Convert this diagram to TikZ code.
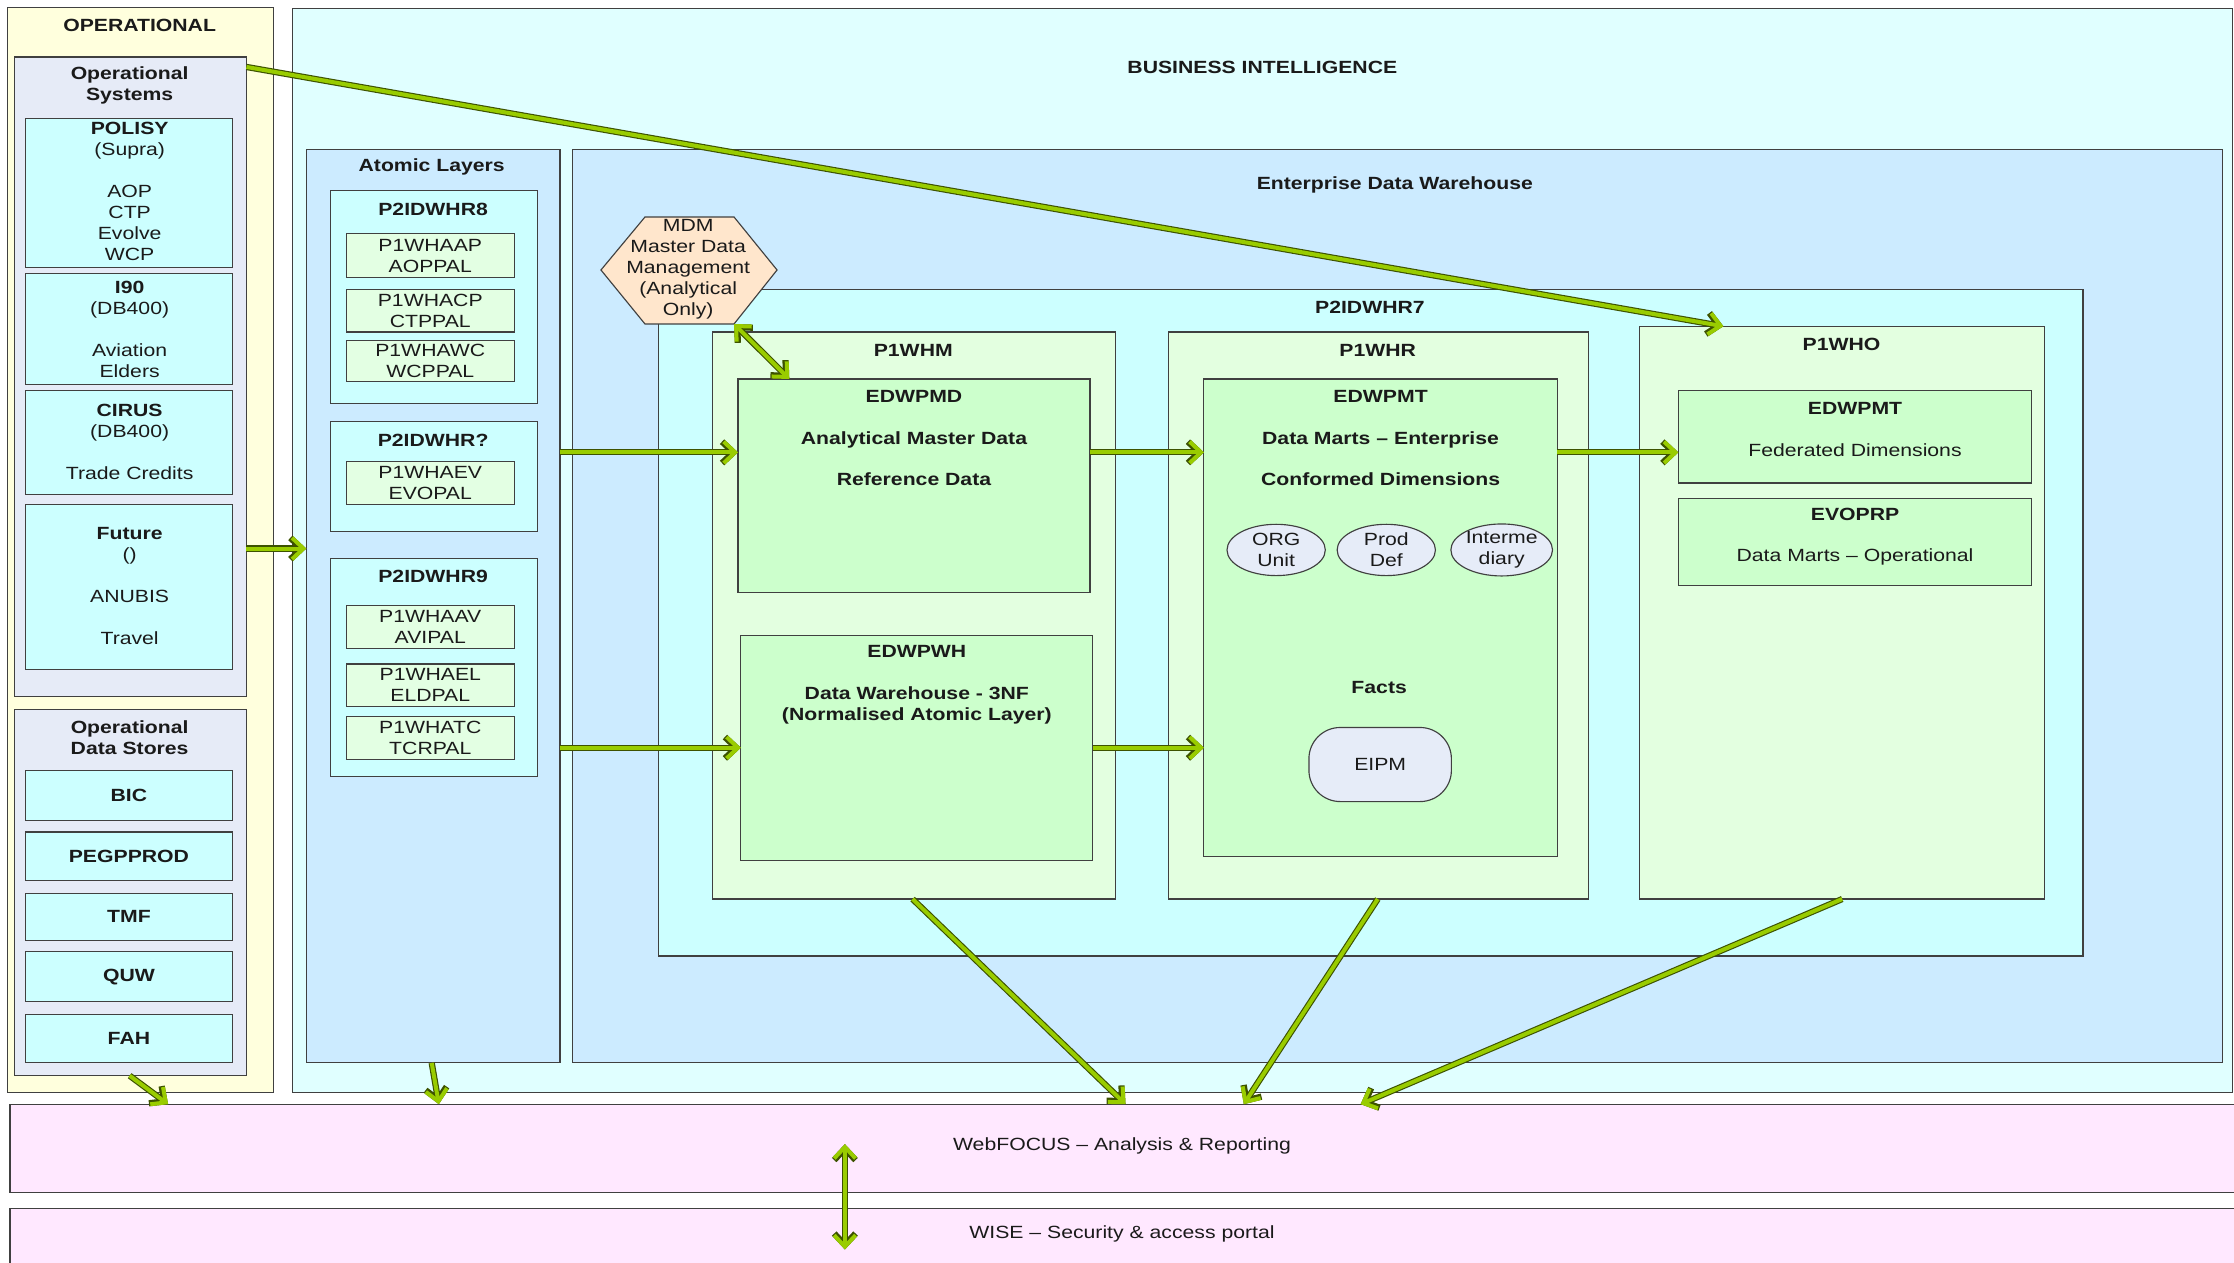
\documentclass[tikz,border=0pt]{standalone}
\usepackage{fontspec}
\setmainfont{Liberation Sans}[FakeStretch=1.2]
\usetikzlibrary{arrows.meta,calc,shapes.geometric}
\definecolor{opyel}{HTML}{FFFFDD}
\definecolor{opgray}{HTML}{E6EBF7}
\definecolor{cyanb}{HTML}{CCFFFF}
\definecolor{bicyan}{HTML}{E0FFFF}
\definecolor{ltblue}{HTML}{CCEBFF}
\definecolor{palegr}{HTML}{E3FFE0}
\definecolor{midgr}{HTML}{CCFFCC}
\definecolor{smallgr}{HTML}{E3FFE3}
\definecolor{ellc}{HTML}{E6ECF8}
\definecolor{mdmc}{HTML}{FFE6CC}
\definecolor{pinkb}{HTML}{FFE8FF}
\definecolor{bordc}{HTML}{404040}
\definecolor{arrg}{HTML}{99CC00}
\definecolor{arrd}{HTML}{3D5200}
\definecolor{txtc}{HTML}{1A1A1A}
\newcommand{\RBox}[6]{\node[bx, fill=#2, minimum width={(#5-#3)*1pt}, minimum height={(#6-#4)*1pt}] (#1) at ({(#3+#5)/2},{(#4+#6)/2}) {};}
\tikzset{
 bx/.style={rectangle, draw=bordc, line width=0.8pt, inner sep=0pt, outer sep=0pt},
 tx/.style={font=\fontsize{12.4}{14.7}\selectfont, text=txtc, inner sep=0pt, align=center},
 bt/.style={tx, font=\fontsize{12.4}{14.7}\selectfont\bfseries},
 garr/.style={draw=arrg, line width=2.8pt, -{Straight Barb[length=8pt,width=15pt]},
   preaction={draw=arrd, line width=4.4pt, -{Straight Barb[length=8pt,width=15pt]}}},
 garrb/.style={draw=arrg, line width=2.8pt, {Straight Barb[length=8pt,width=15pt]}-{Straight Barb[length=8pt,width=15pt]},
   preaction={draw=arrd, line width=4.4pt, {Straight Barb[length=8pt,width=15pt]}-{Straight Barb[length=8pt,width=15pt]}}},
 ell/.style={ellipse, draw=bordc, line width=0.8pt, fill=ellc, minimum width=69pt, minimum height=36pt, tx},
}
\begin{document}
\begin{tikzpicture}[x=1pt,y=-1pt]
\useasboundingbox (0,0) rectangle (1568,886);
\fill[white] (0,0) rectangle (1568,886);
% operational
\RBox{op}{opyel}{5}{5}{192}{767}
\RBox{opsys}{opgray}{10}{40}{173}{489}
\RBox{polisy}{cyanb}{18}{83}{163}{188}
\RBox{i90}{cyanb}{18}{192}{163}{270}
\RBox{cirus}{cyanb}{18}{274}{163}{347}
\RBox{future}{cyanb}{18}{354}{163}{470}
\RBox{ods}{opgray}{10}{498}{173}{755}
\RBox{bic}{cyanb}{18}{541}{163}{576}
\RBox{pegp}{cyanb}{18}{584}{163}{618}
\RBox{tmf}{cyanb}{18}{627}{163}{660}
\RBox{quw}{cyanb}{18}{668}{163}{703}
\RBox{fah}{cyanb}{18}{712}{163}{746}
\node[bt] (t-op) at (98,18) {OPERATIONAL};
\node[bt] (t-opsys) at (91,60) {Operational\\Systems};
\node[tx] (t-polisy) at (91,134.5) {\textbf{POLISY}\\(Supra)\\[14.7pt]AOP\\CTP\\Evolve\\WCP};
\node[tx] (t-i90) at (91,231) {\textbf{I90}\\(DB400)\\[14.7pt]Aviation\\Elders};
\node[tx] (t-cirus) at (91,310.2) {\textbf{CIRUS}\\(DB400)\\[14.7pt]Trade Credits};
\node[tx] (t-future) at (91,411.5) {\textbf{Future}\\()\\[14.7pt]ANUBIS\\[14.7pt]Travel};
\node[bt] (t-ods) at (91,517.7) {Operational\\Data Stores};
\node[bt] (t-bic) at (bic) {BIC};
\node[bt] (t-pegp) at (pegp) {PEGPPROD};
\node[bt] (t-tmf) at (tmf) {TMF};
\node[bt] (t-quw) at (quw) {QUW};
\node[bt] (t-fah) at (fah) {FAH};
% business intelligence
\RBox{bi}{bicyan}{205}{6}{1567}{767}
\RBox{atomic}{ltblue}{215}{105}{393}{746}
\RBox{r8}{cyanb}{232}{134}{377}{283}
\RBox{aap}{smallgr}{243}{164}{361}{195}
\RBox{acp}{smallgr}{243}{203}{361}{233}
\RBox{awc}{smallgr}{243}{239}{361}{268}
\RBox{rq}{cyanb}{232}{296}{377}{373}
\RBox{aev}{smallgr}{243}{324}{361}{354}
\RBox{r9}{cyanb}{232}{392}{377}{545}
\RBox{aav}{smallgr}{243}{425}{361}{455}
\RBox{ael}{smallgr}{243}{466}{361}{496}
\RBox{atc}{smallgr}{243}{503}{361}{533}
\node[bt] (t-bi) at (886,47) {BUSINESS INTELLIGENCE};
\node[bt] (t-atomic) at (303,117) {Atomic Layers};
\node[bt] (t-r8) at (304,146.7) {P2IDWHR8};
\node[tx] (t-aap) at (aap) {P1WHAAP\\AOPPAL};
\node[tx] (t-acp) at (acp) {P1WHACP\\CTPPAL};
\node[tx] (t-awc) at (awc) {P1WHAWC\\WCPPAL};
\node[bt] (t-rq) at (304,308.8) {P2IDWHR?};
\node[tx] (t-aev) at (aev) {P1WHAEV\\EVOPAL};
\node[bt] (t-r9) at (304,404.8) {P2IDWHR9};
\node[tx] (t-aav) at (aav) {P1WHAAV\\AVIPAL};
\node[tx] (t-ael) at (ael) {P1WHAEL\\ELDPAL};
\node[tx] (t-atc) at (atc) {P1WHATC\\TCRPAL};
% enterprise data warehouse
\RBox{edw}{ltblue}{402}{105}{1560}{746}
\node[bt] (t-edw) at (979,130) {Enterprise Data Warehouse};
\RBox{r7}{cyanb}{462}{203}{1462}{671}
\node[bt] (t-r7) at (961.5,215.7) {P2IDWHR7};
\draw[draw=bordc, line width=0.8pt, fill=mdmc] (421.8,189.5) -- (452.7,152.3) -- (515.2,152.3) -- (545.4,189.5) -- (515.2,227.4) coordinate (mdmbr) -- (452.7,227.4) -- cycle;
\node[tx] (mdm) at (483,189) {MDM\\Master Data\\Management\\(Analytical\\Only)};
\RBox{p1whm}{palegr}{500}{233}{783}{631}
\node[bt] (t-p1whm) at (641,245.7) {P1WHM};
\RBox{edwpmd}{midgr}{518}{266}{765}{416}
\node[bt] (t-edwpmd) at (641.5,307.5) {EDWPMD\\[14.5pt]Analytical Master Data\\[14.5pt]Reference Data};
\RBox{edwpwh}{midgr}{520}{446}{767}{604}
\node[bt] (t-edwpwh) at (643.5,480.6) {EDWPWH\\[14.7pt]Data Warehouse - 3NF\\(Normalised Atomic Layer)};
\RBox{p1whr}{palegr}{820}{233}{1115}{631}
\node[bt] (t-p1whr) at (967,246) {P1WHR};
\RBox{edwpmt}{midgr}{845}{266}{1093}{601}
\node[bt] (t-edwpmt) at (969,307.6) {EDWPMT\\[14.5pt]Data Marts -- Enterprise\\[14.5pt]Conformed Dimensions};
\node[ell] (org) at (895.7,386) {ORG\\Unit};
\node[ell] (prod) at (973,386) {Prod\\Def};
\node[ell] (inter) at (1054,386) {Interme\\diary};
\node[bt] (t-facts) at (968,482.4) {Facts};
\node[bx, rounded corners=22pt, fill=ellc, minimum width=100pt, minimum height=52pt, tx] (eipm) at (968.7,536.6) {EIPM};
\RBox{p1who}{palegr}{1151}{229}{1435}{631}
\node[bt] (t-p1who) at (1292.5,241.5) {P1WHO};
\RBox{fed}{midgr}{1178}{274}{1426}{339}
\node[tx] (t-fed) at (1302,301.5) {\textbf{EDWPMT}\\[14.7pt]Federated Dimensions};
\RBox{evoprp}{midgr}{1178}{350}{1426}{411}
\node[tx] (t-evoprp) at (1302,376.6) {\textbf{EVOPRP}\\[14.2pt]Data Marts -- Operational};
% bands
\RBox{web}{pinkb}{7}{775}{1580}{837}
\RBox{wise}{pinkb}{7}{848}{1580}{900}
\node[tx] (t-web) at (787.5,804) {WebFOCUS -- Analysis \& Reporting};
\node[tx] (t-wise) at (787.5,866) {WISE -- Security \& access portal};
% arrows
\coordinate (rowA) at ($(edwpmd.north west)+(0,51.5)$);
\coordinate (rowB) at ($(edwpwh.north west)+(0,78.8)$);
\coordinate (a2s) at ($(opsys.south east)+(0,-104)$);
\draw[garr] (a2s) -- (a2s -| atomic.west);
\draw[garr] (atomic.east |- rowA) -- (edwpmd.west |- rowA);
\draw[garr] (edwpmd.east |- rowA) -- (edwpmt.west |- rowA);
\draw[garr] (edwpmt.east |- rowA) -- (fed.west |- rowA);
\draw[garr] (atomic.east |- rowB) -- (edwpwh.west |- rowB);
\draw[garr] (edwpwh.east |- rowB) -- (edwpmt.west |- rowB);
\draw[garrb] (mdmbr) -- ($(edwpmd.north west)+(36,0)$);
\draw[garr] ($(p1whm.south west)+(140.5,0)$) -- ($(web.north west)+(783,0)$);
\draw[garr] ($(p1whr.south west)+(147,0)$) -- ($(web.north west)+(866,0)$);
\draw[garr] ($(p1who.south west)+(142,0)$) -- ($(web.north west)+(948,0)$);
\draw[garr] ($(ods.south west)+(81,0)$) -- ($(web.north west)+(111,0)$);
\draw[garr] ($(atomic.south west)+(88,0)$) -- ($(web.north west)+(301,0)$);
\draw[garrb] ($(web.north west)+(586,28)$) -- ($(wise.north west)+(586,29)$);
\draw[garr] ($(opsys.north east)+(0,7)$) -- ($(p1who.north west)+(58.6,0)$);
\end{tikzpicture}
\end{document}
